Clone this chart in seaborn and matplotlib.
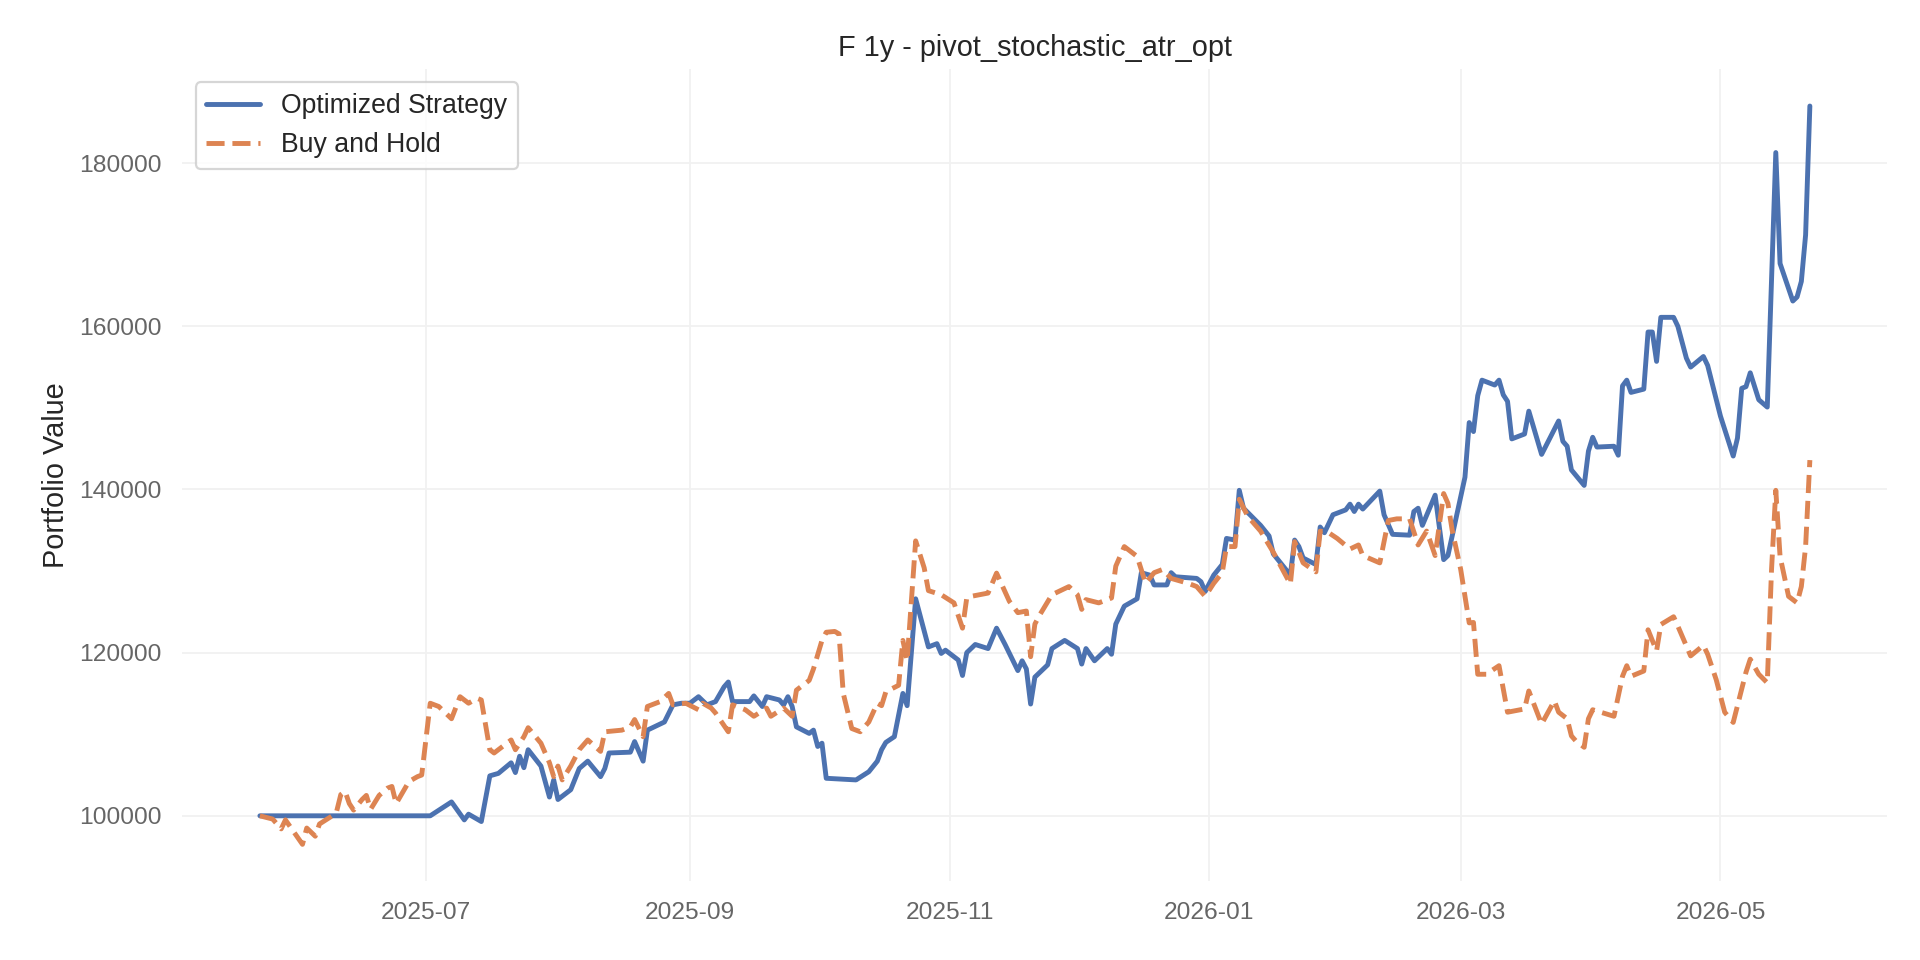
import matplotlib
matplotlib.use('Agg')
import pandas as pd
import matplotlib.pyplot as plt
import matplotlib.dates as mdates
from matplotlib.ticker import MultipleLocator, FuncFormatter
import seaborn as sns

# Zeitachse: Tage seit Start des Backtests
START_DATE = '2025-05-23'

# Optimized Strategy (Tag, Portfoliowert)
opt_days = [
    0, 40, 45, 48, 49, 52, 54, 56, 59, 60,
    61, 62, 63, 66, 68, 69, 70, 73, 75, 77,
    80, 81, 82, 87, 88, 90, 91, 95, 97, 99,
    101, 103, 105, 107, 109, 110, 111, 115, 116, 118,
    119, 122, 123, 124, 125, 126, 129, 130, 131, 132,
    133, 140, 143, 145, 146, 147, 149, 151, 152, 154,
    156, 157, 159, 160, 161, 164, 165, 166, 168, 171,
    173, 175, 178, 179, 180, 181, 182, 185, 186, 189,
    192, 193, 194, 196, 199, 200, 201, 203, 206, 207,
    209, 210, 213, 214, 215, 220, 221, 222, 224, 226,
    227, 229, 230, 231, 235, 237, 238, 242, 243, 244,
    245, 248, 249, 250, 252, 255, 256, 257, 258, 259,
    263, 264, 266, 270, 271, 272, 273, 276, 278, 279,
    283, 284, 285, 286, 287, 290, 291, 292, 293, 294,
    297, 298, 301, 305, 306, 307, 308, 311, 312, 313,
    314, 318, 319, 320, 321, 322, 325, 326, 327, 328,
    329, 332, 333, 335, 336, 339, 340, 343, 346, 347,
    348, 349, 350, 352, 354, 356, 357, 360, 361, 362,
    363, 364,
]
opt_values = [
    100000, 100000, 101700, 99500, 100200, 99300, 104900, 105200, 106500, 105300,
    107300, 105900, 108100, 106100, 102300, 104400, 102000, 103200, 105800, 106700,
    104800, 105800, 107700, 107800, 109100, 106700, 110500, 111500, 113600, 113800,
    113800, 114600, 113600, 114000, 115800, 116400, 114000, 114000, 114700, 113400,
    114600, 114200, 113600, 114600, 113400, 110900, 110100, 110500, 108500, 108900,
    104600, 104400, 105400, 106700, 108100, 109000, 109700, 115000, 113500, 126600,
    122700, 120700, 121100, 119900, 120300, 119100, 117200, 120000, 121000, 120500,
    123000, 121000, 117800, 119000, 118000, 113700, 117000, 118500, 120500, 121500,
    120500, 118600, 120500, 119000, 120500, 119800, 123500, 125700, 126600, 129800,
    129500, 128300, 128300, 129800, 129300, 129100, 128700, 127500, 129500, 130800,
    134000, 133800, 139900, 137700, 135600, 134300, 132100, 129500, 133800, 133000,
    131600, 130800, 135400, 134700, 136900, 137500, 138200, 137300, 138200, 137600,
    139800, 136900, 134500, 134400, 137300, 137700, 135600, 139300, 131400, 131900,
    141500, 148200, 147100, 151500, 153400, 152800, 153400, 151600, 150800, 146200,
    146800, 149600, 144300, 148400, 145900, 145300, 142400, 140500, 144700, 146400,
    145200, 145300, 144200, 152700, 153400, 151900, 152300, 159300, 159300, 155700,
    161100, 161100, 160000, 156100, 155000, 156300, 155200, 149000, 144100, 146300,
    152400, 152600, 154300, 151000, 150100, 181300, 167700, 163100, 163600, 165500,
    171200, 187000,
]

# Buy and Hold (Tag, Portfoliowert)
bh_days = [
    0, 3, 5, 6, 8, 10, 11, 13, 14, 17,
    18, 19, 20, 21, 22, 24, 25, 26, 28, 30,
    31, 32, 35, 37, 38, 40, 42, 45, 47, 49,
    51, 52, 54, 55, 57, 59, 60, 62, 63, 66,
    68, 69, 70, 71, 73, 75, 77, 80, 81, 85,
    87, 88, 90, 91, 94, 96, 97, 100, 103, 104,
    106, 107, 110, 111, 114, 116, 119, 120, 123, 125,
    126, 129, 130, 132, 133, 135, 136, 137, 139, 141,
    143, 145, 146, 147, 150, 151, 152, 154, 156, 157,
    160, 163, 165, 166, 167, 171, 173, 176, 178, 180,
    181, 182, 183, 186, 190, 192, 193, 194, 197, 200,
    201, 203, 206, 208, 210, 212, 214, 218, 220, 222,
    224, 226, 227, 229, 230, 232, 235, 238, 242, 243,
    245, 248, 249, 251, 253, 256, 258, 259, 263, 265,
    267, 270, 272, 274, 276, 278, 279, 280, 282, 284,
    285, 286, 288, 291, 293, 297, 298, 301, 304, 305,
    307, 308, 309, 311, 312, 313, 318, 320, 321, 322,
    325, 326, 328, 329, 332, 333, 336, 339, 340, 342,
    344, 346, 347, 349, 350, 352, 354, 355, 356, 357,
    359, 361, 362, 363, 364,
]
bh_values = [
    100000, 99600, 98400, 99500, 98000, 96500, 98500, 97500, 99000, 100000,
    100500, 102600, 103000, 101500, 100700, 102000, 102500, 100800, 102500, 103400,
    103600, 101500, 104200, 104800, 105000, 113800, 113400, 111900, 114600, 113800,
    114400, 114200, 108100, 107700, 108500, 109300, 108100, 109700, 110800, 108900,
    106500, 104800, 106100, 104400, 106100, 108100, 109300, 107900, 110300, 110500,
    110900, 111800, 109700, 113400, 114000, 115000, 113600, 113800, 113000, 113800,
    113200, 112600, 110300, 113600, 113000, 112200, 113200, 112200, 113200, 112200,
    115400, 116600, 118000, 121500, 122500, 122600, 122300, 115000, 110700, 110300,
    111500, 113800, 113500, 115200, 116000, 121500, 119000, 133700, 130400, 127600,
    127100, 126100, 123000, 126700, 126900, 127300, 129750, 126300, 124900, 125100,
    119500, 123500, 124500, 127100, 128100, 127100, 125300, 126500, 126100, 126700,
    130600, 133000, 131800, 128500, 129800, 130200, 129100, 128500, 128100, 126900,
    128500, 129800, 133000, 133000, 138800, 136700, 134900, 132300, 128400, 133600,
    131000, 129900, 134900, 134700, 134000, 132700, 133200, 131900, 131000, 136200,
    136400, 136400, 133200, 134900, 131900, 139500, 138300, 135000, 130200, 123650,
    123700, 117350, 117350, 118400, 112700, 113100, 115300, 111250, 114100, 112700,
    111900, 109800, 109200, 108400, 111900, 113000, 112200, 117100, 118400, 117100,
    117750, 122800, 120200, 123450, 124400, 123250, 119600, 120900, 119800, 116700,
    112700, 111450, 113500, 117600, 119200, 117350, 116300, 130200, 139900, 131800,
    126900, 126100, 128100, 133000, 143600,
]

assert len(opt_days) == len(opt_values)
assert len(bh_days) == len(bh_values)

start = pd.to_datetime(START_DATE)
df_opt = pd.DataFrame({'Date': start + pd.to_timedelta(opt_days, unit='D'), 'Value': opt_values})
df_bh = pd.DataFrame({'Date': start + pd.to_timedelta(bh_days, unit='D'), 'Value': bh_values})

sns.set_theme(style='whitegrid')
plt.rcParams['font.family'] = ['Liberation Sans', 'DejaVu Sans']

fig, ax = plt.subplots(figsize=(12, 6), dpi=160)
fig.subplots_adjust(left=0.095, right=0.983, top=0.928, bottom=0.082)

sns.lineplot(data=df_opt, x='Date', y='Value', ax=ax, color='#4c72b0',
             linewidth=2.2, label='Optimized Strategy')
sns.lineplot(data=df_bh, x='Date', y='Value', ax=ax, color='#dd8452',
             linewidth=2.2, linestyle='--', label='Buy and Hold')

# Achsen
ax.set_title('F 1y - pivot_stochastic_atr_opt', fontsize=13, color='#262626')
ax.set_xlabel('')
ax.set_ylabel('Portfolio Value', fontsize=13, color='#262626')
ax.xaxis.set_major_locator(mdates.MonthLocator(bymonth=[1, 3, 5, 7, 9, 11]))
ax.xaxis.set_major_formatter(mdates.DateFormatter('%Y-%m'))
ax.yaxis.set_major_locator(MultipleLocator(20000))
ax.yaxis.set_major_formatter(FuncFormatter(lambda v, _: f'{v:.0f}'))
ax.tick_params(axis='both', labelsize=11, labelcolor='#666666')

# Grid sehr hell, kein Rahmen
ax.grid(True, color='#f1f1f1', linewidth=0.8)
sns.despine(ax=ax, left=True, bottom=True)

ax.legend(loc='upper left', fontsize=12, frameon=True)

fig.savefig('out.png', dpi=160)
